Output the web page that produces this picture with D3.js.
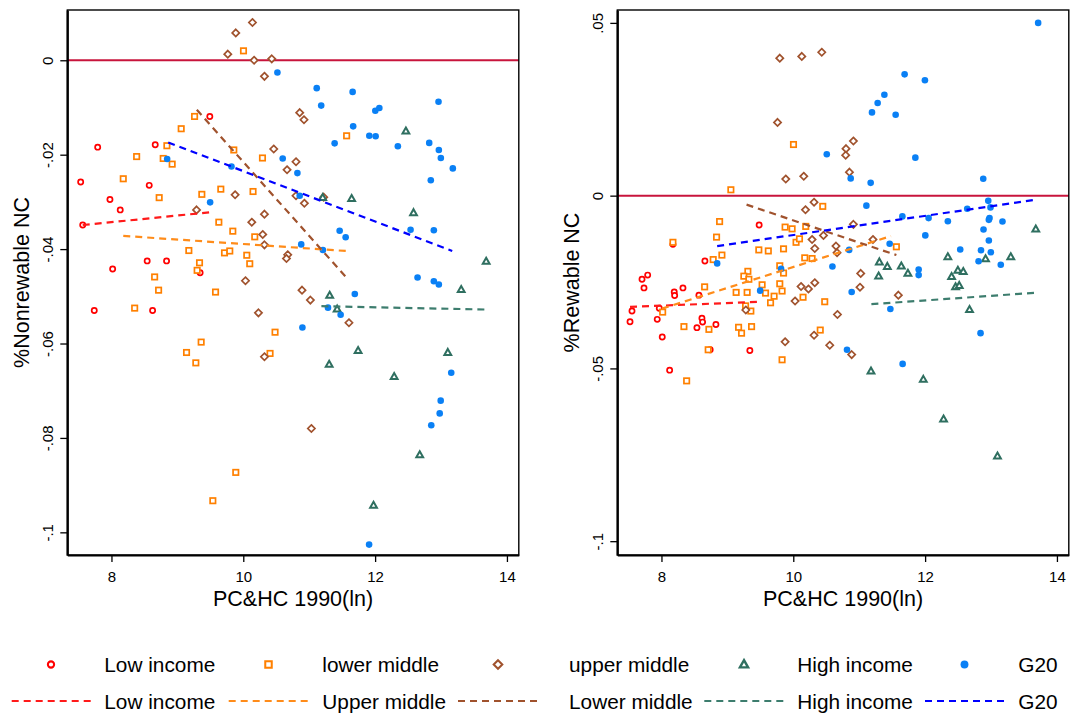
<!DOCTYPE html>
<head>
<meta charset="UTF-8">
<title>PC&HC 1990 vs NC</title>
<style>
body { margin: 0; background: #fff; }
svg { font-family: 'Liberation Sans', Arial, sans-serif; display: block; }
.axis text { font-size: 15px; fill: #000; }
.axis line { stroke: #000; stroke-width: 1.3px; }
</style>
</head>
<body>
<svg></svg>
<script src="https://d3js.org/d3.v7.min.js"></script>
<script>

// ---- data: left panel, %Nonrewable NC ----
var nonLow = [[7.791,-0.0184],[8.664,-0.0179],[9.492,-0.0119],[7.533,-0.0258],[8.573,-0.0265],[7.977,-0.0295],[8.133,-0.0317],[7.564,-0.0349],[8.542,-0.0425],[8.836,-0.0425],[8.018,-0.0442],[9.345,-0.0450],[7.739,-0.0530],[8.624,-0.0530]];
var nonLowerMid = [[10.003,0.0020],[9.261,-0.0119],[9.058,-0.0145],[8.841,-0.0181],[8.382,-0.0204],[8.785,-0.0208],[8.921,-0.0220],[8.179,-0.0251],[9.856,-0.0190],[10.291,-0.0207],[9.659,-0.0273],[9.371,-0.0284],[10.148,-0.0278],[8.724,-0.0291],[11.568,-0.0160],[9.629,-0.0343],[9.841,-0.0362],[10.174,-0.0374],[9.174,-0.0403],[9.715,-0.0408],[9.795,-0.0404],[10.053,-0.0413],[9.336,-0.0429],[10.098,-0.0431],[9.300,-0.0445],[8.655,-0.0459],[8.715,-0.0487],[9.579,-0.0491],[8.352,-0.0525],[10.482,-0.0576],[9.361,-0.0597],[9.139,-0.0619],[10.406,-0.0621],[9.280,-0.0641],[9.886,-0.0873],[9.538,-0.0933]];
var nonUpperMid = [[10.139,0.0080],[9.886,0.0058],[9.765,0.0013],[10.164,0.0000],[10.432,0.0003],[10.321,-0.0034],[10.856,-0.0111],[10.921,-0.0126],[10.462,-0.0188],[10.800,-0.0215],[10.664,-0.0232],[9.876,-0.0285],[9.291,-0.0317],[10.321,-0.0326],[10.129,-0.0343],[10.295,-0.0369],[10.321,-0.0391],[10.674,-0.0412],[10.655,-0.0420],[10.033,-0.0467],[10.800,-0.0287],[10.927,-0.0303],[10.891,-0.0487],[11.018,-0.0508],[10.230,-0.0535],[11.603,-0.0556],[10.321,-0.0628],[11.033,-0.0780],[11.220,-0.0290]];
var nonHigh = [[12.467,-0.0150],[11.205,-0.0291],[11.644,-0.0293],[12.583,-0.0323],[13.685,-0.0426],[13.306,-0.0486],[11.311,-0.0498],[11.424,-0.0527],[11.742,-0.0615],[13.103,-0.0619],[11.303,-0.0644],[12.289,-0.0670],[12.677,-0.0836],[11.976,-0.0943]];
var nonG20 = [[10.518,-0.0026],[11.114,-0.0059],[11.182,-0.0096],[11.659,-0.0067],[11.667,-0.0140],[11.386,-0.0176],[10.598,-0.0208],[10.821,-0.0239],[9.821,-0.0225],[8.845,-0.0209],[10.856,-0.0287],[12.003,-0.0107],[12.064,-0.0101],[12.962,-0.0088],[11.912,-0.0160],[12.008,-0.0161],[12.345,-0.0182],[12.821,-0.0175],[12.967,-0.0190],[12.997,-0.0207],[13.179,-0.0229],[12.845,-0.0254],[9.497,-0.0301],[11.462,-0.0361],[11.553,-0.0375],[10.879,-0.0390],[11.208,-0.0402],[12.538,-0.0359],[12.891,-0.0360],[12.644,-0.0460],[12.891,-0.0468],[12.967,-0.0475],[11.692,-0.0495],[11.285,-0.0524],[11.477,-0.0539],[10.897,-0.0566],[13.155,-0.0662],[12.995,-0.0721],[12.980,-0.0748],[12.852,-0.0773],[11.909,-0.1026]];
// fitted lines (end points)
var nonFitLow = [[7.564,-0.0349],[9.492,-0.0322]];
var nonFitUpperMid = [[8.179,-0.0372],[11.564,-0.0404]];
var nonFitLowerMid = [[9.295,-0.0105],[11.594,-0.0465]];
var nonFitHigh = [[11.185,-0.0521],[13.685,-0.0528]];
var nonFitG20 = [[8.861,-0.0174],[13.170,-0.0404]];

// ---- data: right panel, %Rewable NC ----
var rewLow = [[9.482,-0.0085],[8.174,-0.0141],[8.659,-0.0189],[7.791,-0.0230],[7.705,-0.0242],[7.735,-0.0267],[8.194,-0.0279],[8.200,-0.0289],[8.326,-0.0267],[8.568,-0.0288],[7.967,-0.0326],[7.553,-0.0334],[7.936,-0.0358],[7.523,-0.0365],[8.614,-0.0355],[8.624,-0.0366],[8.538,-0.0382],[8.826,-0.0373],[8.012,-0.0409],[8.739,-0.0446],[9.341,-0.0448],[8.124,-0.0505]];
var rewLowerMid = [[10.003,0.0148],[9.053,0.0017],[8.882,-0.0075],[10.447,-0.0031],[9.876,-0.0091],[9.982,-0.0096],[10.189,-0.0089],[8.836,-0.0120],[8.174,-0.0135],[9.477,-0.0157],[9.621,-0.0160],[9.852,-0.0154],[10.042,-0.0135],[10.094,-0.0125],[11.564,-0.0148],[8.917,-0.0172],[8.785,-0.0185],[10.174,-0.0180],[10.285,-0.0182],[9.795,-0.0203],[9.852,-0.0224],[9.311,-0.0219],[9.250,-0.0233],[9.326,-0.0242],[9.527,-0.0258],[9.795,-0.0255],[8.655,-0.0264],[9.133,-0.0280],[9.300,-0.0280],[9.579,-0.0282],[9.830,-0.0276],[9.709,-0.0291],[9.655,-0.0310],[10.148,-0.0294],[10.477,-0.0307],[9.276,-0.0319],[9.356,-0.0334],[8.018,-0.0337],[8.341,-0.0379],[9.170,-0.0381],[9.367,-0.0379],[8.720,-0.0387],[9.215,-0.0398],[10.409,-0.0389],[8.709,-0.0446],[9.830,-0.0475],[8.382,-0.0536]];
var rewUpperMid = [[9.795,0.0398],[10.129,0.0403],[10.432,0.0415],[9.761,0.0212],[9.886,0.0048],[10.159,0.0056],[10.912,0.0158],[10.800,0.0136],[10.795,0.0117],[10.852,0.0068],[10.315,-0.0019],[10.185,-0.0041],[10.285,-0.0127],[10.458,-0.0115],[10.326,-0.0153],[10.912,-0.0083],[11.209,-0.0127],[10.648,-0.0146],[10.664,-0.0165],[11.023,-0.0225],[11.012,-0.0265],[11.594,-0.0288],[10.670,-0.0344],[10.553,-0.0433],[10.886,-0.0460],[10.118,-0.0263],[10.230,-0.0270],[10.326,-0.0252],[10.027,-0.0305],[9.280,-0.0331],[10.315,-0.0404],[9.876,-0.0423]];
var rewHigh = [[13.679,-0.0097],[11.306,-0.0192],[11.427,-0.0205],[11.639,-0.0204],[11.739,-0.0225],[11.295,-0.0233],[12.345,-0.0177],[12.497,-0.0216],[12.579,-0.0220],[12.402,-0.0234],[12.917,-0.0183],[13.300,-0.0177],[12.462,-0.0264],[12.518,-0.0260],[12.674,-0.0330],[11.179,-0.0508],[11.973,-0.0532],[12.280,-0.0647],[13.098,-0.0754]];
var rewG20 = [[13.715,0.0500],[11.689,0.0351],[11.997,0.0334],[11.382,0.0292],[11.280,0.0268],[11.194,0.0241],[11.553,0.0234],[10.508,0.0120],[11.852,0.0110],[10.871,0.0050],[11.174,0.0037],[12.882,0.0049],[11.109,-0.0029],[12.958,-0.0015],[12.639,-0.0038],[12.992,-0.0034],[11.655,-0.0060],[12.053,-0.0065],[12.345,-0.0074],[12.967,-0.0070],[12.977,-0.0065],[13.174,-0.0075],[12.886,-0.0098],[12.003,-0.0115],[12.967,-0.0130],[11.462,-0.0139],[12.533,-0.0156],[12.848,-0.0158],[10.848,-0.0157],[12.997,-0.0164],[12.811,-0.0190],[13.148,-0.0200],[10.594,-0.0205],[11.902,-0.0214],[11.902,-0.0230],[10.886,-0.0279],[11.473,-0.0328],[12.841,-0.0398],[10.815,-0.0446],[11.659,-0.0487],[8.845,-0.0196],[9.815,-0.0212],[9.497,-0.0275]];
var rewFitLow = [[7.523,-0.0322],[9.492,-0.0307]];
var rewFitUpperMid = [[8.008,-0.0327],[11.482,-0.0117]];
var rewFitLowerMid = [[9.291,-0.0026],[11.564,-0.0172]];
var rewFitHigh = [[11.185,-0.0314],[13.674,-0.0281]];
var rewFitG20 = [[8.845,-0.0146],[13.674,-0.0012]];

// ticks and labels
var xTicks = [8, 10, 12, 14];
var nonTicks = [0, -0.02, -0.04, -0.06, -0.08, -0.1];
var nonTickLabels = ['0', '-.02', '-.04', '-.06', '-.08', '-.1'];
var rewTicks = [0.05, 0, -0.05, -0.1];
var rewTickLabels = ['.05', '0', '-.05', '-.1'];
var markerNames = ['Low income', 'lower middle', 'upper middle', 'High income', 'G20'];
var lineNames = ['Low income', 'Upper middle', 'Lower middle', 'High income', 'G20'];

// ---- styles ----
var red = '#ff0000', orange = '#ff8000', brown = '#a0522d', green = '#2f6f60', blue = '#0a80f5';
var fitColors = ['#ff1a1a', '#ff8c1a', '#a0522d', '#3d7d6e', '#0000ff'];
var markerColors = [red, orange, brown, green, blue];
var markerTypes = ['circle', 'square', 'diamond', 'triangle', 'dot'];

var svg = d3.select('svg').attr('width', 1080).attr('height', 718);

function drawMarker(g, type, color) {
  if (type === 'circle') {
    g.append('circle').attr('r', 2.6).attr('fill', '#fff').attr('stroke', color).attr('stroke-width', 1.7);
  } else if (type === 'square') {
    g.append('rect').attr('x', -2.7).attr('y', -2.7).attr('width', 5.4).attr('height', 5.4)
      .attr('fill', '#fff').attr('stroke', color).attr('stroke-width', 1.7);
  } else if (type === 'diamond') {
    g.append('path').attr('d', 'M0,-3.6L3.6,0L0,3.6L-3.6,0Z')
      .attr('fill', '#fff').attr('stroke', color).attr('stroke-width', 1.7);
  } else if (type === 'triangle') {
    g.append('path').attr('d', 'M0,-3.6L3.4,2.4L-3.4,2.4Z')
      .attr('fill', '#fff').attr('stroke', color).attr('stroke-width', 2);
  } else {
    g.append('circle').attr('r', 3.3).attr('fill', color);
  }
}

function drawPanel(p) {
  var x = d3.scaleLinear().domain([7.33, 14.18]).range([p.left, p.left + 451.5]);
  var y = d3.scaleLinear().domain(p.yDomain).range([555, 10]);
  var g = svg.append('g');

  // reference line at zero
  g.append('line')
    .attr('x1', x.range()[0]).attr('x2', x.range()[1])
    .attr('y1', y(0)).attr('y2', y(0))
    .attr('stroke', '#c8143c').attr('stroke-width', 2);

  p.series.forEach(function (s, i) {
    g.append('g').selectAll('g')
      .data(s)
      .enter().append('g')
      .attr('transform', function (d) { return 'translate(' + x(d[0]) + ',' + y(d[1]) + ')'; })
      .each(function () { drawMarker(d3.select(this), markerTypes[i], markerColors[i]); });
  });

  var line = d3.line().x(function (d) { return x(d[0]); }).y(function (d) { return y(d[1]); });
  p.fits.forEach(function (f, i) {
    g.append('path').attr('d', line(f))
      .attr('fill', 'none').attr('stroke', fitColors[i])
      .attr('stroke-width', 2.2).attr('stroke-dasharray', '7,5');
  });

  // frame
  g.append('rect')
    .attr('x', x.range()[0]).attr('y', 10)
    .attr('width', 451.5).attr('height', 545)
    .attr('fill', 'none').attr('stroke', '#000').attr('stroke-width', 1.4);

  var xAxis = g.append('g').attr('class', 'axis')
    .attr('transform', 'translate(0,555)')
    .call(d3.axisBottom(x).tickValues(xTicks).tickSize(7).tickSizeOuter(0).tickFormat(d3.format('d')));
  xAxis.select('.domain').attr('stroke', '#000').attr('stroke-width', 2.2);
  xAxis.selectAll('text').attr('y', 27).attr('dy', 0);

  var yAxis = g.append('g').attr('class', 'axis')
    .attr('transform', 'translate(' + p.left + ',0)')
    .call(d3.axisLeft(y).tickValues(p.ticks).tickSize(7).tickSizeOuter(0)
      .tickFormat(function (d, i) { return p.tickLabels[i]; }));
  yAxis.select('.domain').attr('stroke', '#000').attr('stroke-width', 2.2);
  yAxis.selectAll('text')
    .attr('transform', 'rotate(-90)')
    .attr('x', 0).attr('y', -14.5).attr('dy', 0)
    .attr('text-anchor', 'middle');

  g.append('text')
    .attr('x', (x.range()[0] + x.range()[1]) / 2).attr('y', 606)
    .attr('text-anchor', 'middle').style('font-size', '21.5px')
    .text('PC&HC 1990(ln)');

  g.append('text')
    .attr('transform', 'translate(' + (p.left - 38.5) + ',282.5) rotate(-90)')
    .attr('text-anchor', 'middle').style('font-size', '21.5px')
    .text(p.title);
}

drawPanel({
  left: 67.3,
  yDomain: [-0.1048, 0.01065],
  ticks: nonTicks,
  tickLabels: nonTickLabels,
  title: '%Nonrewable NC',
  series: [nonLow, nonLowerMid, nonUpperMid, nonHigh, nonG20],
  fits: [nonFitLow, nonFitUpperMid, nonFitLowerMid, nonFitHigh, nonFitG20]
});

drawPanel({
  left: 617.3,
  yDomain: [-0.1040, 0.05373],
  ticks: rewTicks,
  tickLabels: rewTickLabels,
  title: '%Rewable NC',
  series: [rewLow, rewLowerMid, rewUpperMid, rewHigh, rewG20],
  fits: [rewFitLow, rewFitUpperMid, rewFitLowerMid, rewFitHigh, rewFitG20]
});

// ---- legend ----
var legendMarkerX = [51, 268.5, 498, 744, 964.5];
var legendTextX = [104.3, 322.3, 569, 797.3, 1018.3];
var legendLineX = [[11.7, 90.7], [228.7, 308.3], [458, 538], [704.3, 784.3], [925, 1005]];
var legend = svg.append('g').style('font-size', '20.8px');

markerNames.forEach(function (name, i) {
  var m = legend.append('g').attr('transform', 'translate(' + legendMarkerX[i] + ',664.5) scale(1.2)');
  drawMarker(m, markerTypes[i], markerColors[i]);
  legend.append('text').attr('x', legendTextX[i]).attr('y', 672).text(name);
});

lineNames.forEach(function (name, i) {
  legend.append('line')
    .attr('x1', legendLineX[i][0]).attr('x2', legendLineX[i][1])
    .attr('y1', 701).attr('y2', 701)
    .attr('stroke', fitColors[i]).attr('stroke-width', 2.2).attr('stroke-dasharray', '7,5');
  legend.append('text').attr('x', legendTextX[i]).attr('y', 709).text(name);
});

</script>
</body>
</html>
